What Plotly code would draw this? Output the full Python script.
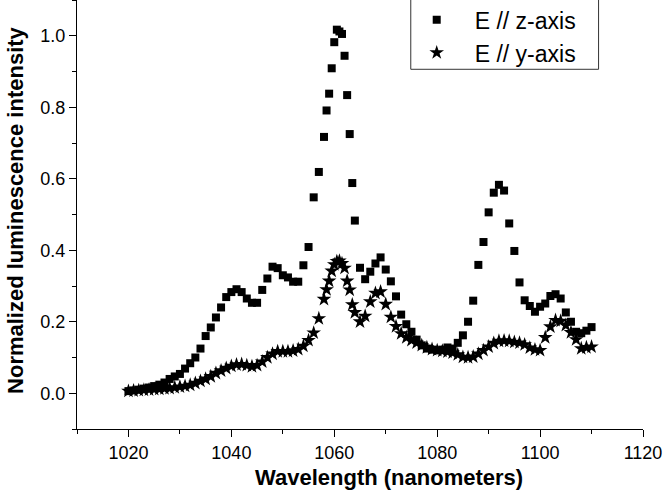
import plotly.graph_objects as go

# Wavelength grid (nm)
wavelength = (list(range(1020, 1059)) +
              [1058.5, 1059, 1059.5, 1060, 1060.5, 1061, 1061.5, 1062, 1062.5, 1063, 1063.5, 1064] +
              list(range(1065, 1111)))

# E // z-axis (squares)
z_axis = [0.006, 0.008, 0.010, 0.013, 0.016, 0.020, 0.024, 0.030, 0.040, 0.047,
          0.054, 0.069, 0.084, 0.100, 0.125, 0.160, 0.184, 0.212, 0.240, 0.269,
          0.283, 0.291, 0.283, 0.265, 0.253, 0.253, 0.289, 0.321, 0.354, 0.350,
          0.330, 0.324, 0.312, 0.312, 0.358, 0.409, 0.548, 0.619, 0.717,
          0.791, 0.838, 0.909, 0.982, 1.017, 1.012, 1.005, 0.944, 0.834, 0.725, 0.588, 0.483,
          0.351, 0.319, 0.340, 0.363, 0.380, 0.346, 0.313, 0.271, 0.220, 0.193,
          0.172, 0.150, 0.134, 0.125, 0.122, 0.120, 0.122, 0.128, 0.125, 0.141,
          0.162, 0.200, 0.259, 0.359, 0.423, 0.506, 0.561, 0.583, 0.567, 0.475,
          0.398, 0.310, 0.260, 0.244, 0.228, 0.242, 0.251, 0.272, 0.277, 0.265,
          0.226, 0.200, 0.172, 0.168, 0.175, 0.185]

# E // y-axis (stars)
y_axis = [0.006, 0.007, 0.008, 0.009, 0.010, 0.011, 0.012, 0.013, 0.014, 0.016,
          0.018, 0.020, 0.023, 0.028, 0.034, 0.040, 0.047, 0.056, 0.063, 0.070,
          0.076, 0.080, 0.081, 0.078, 0.075, 0.078, 0.088, 0.100, 0.110, 0.117,
          0.117, 0.117, 0.119, 0.123, 0.132, 0.148, 0.169, 0.209, 0.263,
          0.290, 0.314, 0.342, 0.360, 0.369, 0.370, 0.363, 0.350, 0.314, 0.289, 0.248, 0.226,
          0.200, 0.216, 0.256, 0.280, 0.284, 0.249, 0.213, 0.187, 0.167, 0.156,
          0.148, 0.141, 0.134, 0.128, 0.123, 0.120, 0.118, 0.116, 0.113, 0.108,
          0.101, 0.100, 0.102, 0.110, 0.120, 0.130, 0.140, 0.146, 0.147, 0.146,
          0.143, 0.141, 0.136, 0.127, 0.122, 0.120, 0.156, 0.186, 0.204, 0.202,
          0.190, 0.170, 0.150, 0.125, 0.128, 0.130]

series_names = ["E // z-axis", "E // y-axis"]
x_title = "Wavelength (nanometers)"
y_title = "Normalized luminescence intensity"

FONT = "Liberation Sans, Arial, sans-serif"

fig = go.Figure()
fig.add_trace(go.Scatter(x=wavelength, y=z_axis, mode="markers", name=series_names[0],
                         marker=dict(symbol="square", size=8, color="black", line=dict(width=0))))
fig.add_trace(go.Scatter(x=wavelength, y=y_axis, mode="markers", name=series_names[1],
                         marker=dict(symbol="star", size=11, color="black", line=dict(width=0))))

axis_common = dict(showgrid=False, zeroline=False, showline=True, linecolor="black", linewidth=1.3,
                   ticks="outside", ticklen=7, tickwidth=1.3, tickcolor="black", automargin=False,
                   tickfont=dict(family=FONT, size=18, color="black"), mirror=False)

fig.update_xaxes(range=[1010, 1120], tick0=1000, dtick=20,
                 minor=dict(dtick=10, tick0=1000, ticks="outside", ticklen=4, tickwidth=1.3, tickcolor="black"),
                 **axis_common)
fig.update_yaxes(range=[-0.1, 1.1], tick0=0, dtick=0.2, tickformat=".1f",
                 minor=dict(dtick=0.1, tick0=0, ticks="outside", ticklen=4, tickwidth=1.3, tickcolor="black"),
                 **axis_common)

fig.add_annotation(text="<b>" + x_title + "</b>", xref="paper", yref="paper",
                   x=0.551, y=-0.112, xanchor="center", yanchor="middle", showarrow=False,
                   font=dict(family=FONT, size=22, color="black"))
fig.add_annotation(text="<b>" + y_title + "</b>", xref="paper", yref="paper",
                   x=-0.110, y=0.51, xanchor="center", yanchor="middle", textangle=-90, showarrow=False,
                   font=dict(family=FONT, size=22, color="black"))

# legend frame (extends above the top edge, as in the original)
fig.add_shape(type="rect", xref="paper", yref="paper", x0=0.5897, x1=0.9215, y0=0.8385, y1=1.05,
              line=dict(color="#333333", width=1), fillcolor="rgba(0,0,0,0)", layer="above")

fig.update_layout(
    template="none",
    width=666, height=498,
    margin=dict(l=77, r=23, t=0, b=69, autoexpand=False),
    paper_bgcolor="white", plot_bgcolor="white",
    legend=dict(x=0.5684, y=1.004, xanchor="left", yanchor="top",
                borderwidth=0, bgcolor="rgba(0,0,0,0)",
                font=dict(family=FONT, size=23, color="black"),
                itemwidth=66, tracegroupgap=0),
)

fig.write_html("out.html", config={"displayModeBar": False},
               post_script="document.body.style.margin='0px';")
